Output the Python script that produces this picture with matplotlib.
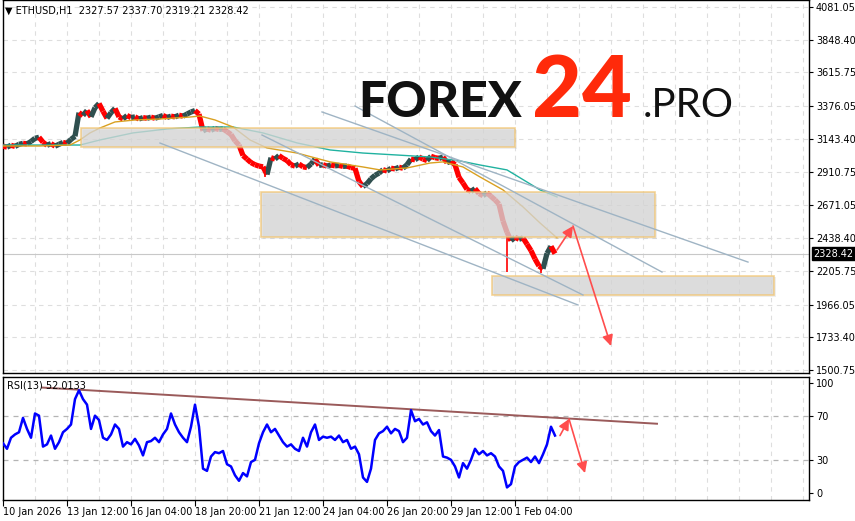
import matplotlib
matplotlib.use("Agg")
import matplotlib.pyplot as plt
from matplotlib.collections import LineCollection
from matplotlib.patches import Rectangle
from matplotlib.transforms import blended_transform_factory

# close prices, one value per 4 hours (hour 0 = 10 Jan 20:00)
closes = [3092, 3085, 3098, 3090, 3105, 3112, 3108, 3125, 3148, 3155,
          3120, 3098, 3110, 3092, 3105, 3118, 3112, 3140, 3162, 3330,
          3310, 3345, 3300, 3365, 3395, 3340, 3290, 3330, 3360, 3300,
          3285, 3310, 3295, 3300, 3285, 3295, 3290, 3298, 3290, 3300,
          3310, 3296, 3305, 3300, 3312, 3305, 3320, 3335, 3345, 3320,
          3200, 3215, 3205, 3218, 3210, 3215, 3195, 3175, 3130, 3100,
          3025, 3000, 2975, 2960, 2950, 2945, 2890, 3010, 3000, 3025,
          3005, 2990, 2960, 2950, 2965, 2945, 2940, 2965, 3000, 2955,
          2960, 2950, 2958, 2952, 2955, 2948, 2950, 2940, 2935, 2840,
          2805, 2825, 2860, 2885, 2900, 2925, 2915, 2935, 2930, 2942,
          2935, 2960, 3000, 2995, 3015, 3000, 2990, 3020, 3010, 3005,
          3015, 2975, 2985, 2960, 2870, 2830, 2785, 2770, 2790, 2755,
          2740, 2760, 2735, 2710, 2680, 2560, 2480, 2420, 2445, 2430,
          2440, 2395, 2350, 2290, 2240, 2220, 2330, 2380, 2328]
bar_hours = 4

wick_hours = [262, 504, 538]
wick_lows = [2873, 2200, 2190]

rsi = [45, 40, 50, 53, 55, 68, 58, 50, 72, 70,
       42, 44, 52, 40, 46, 55, 58, 62, 85, 93,
       85, 80, 58, 70, 66, 50, 48, 53, 62, 58,
       42, 46, 44, 49, 43, 34, 46, 47, 50, 46,
       53, 58, 72, 62, 55, 50, 46, 60, 80, 60,
       22, 20, 33, 37, 36, 38, 26, 24, 16, 11,
       18, 15, 28, 30, 45, 55, 62, 55, 58, 52,
       46, 42, 44, 40, 38, 50, 42, 55, 62, 48,
       51, 50, 51, 48, 52, 46, 48, 40, 42, 35,
       14, 10, 22, 48, 54, 56, 60, 54, 58, 56,
       46, 50, 75, 65, 67, 62, 64, 56, 52, 57,
       33, 32, 30, 24, 14, 27, 22, 30, 40, 35,
       38, 34, 36, 33, 24, 20, 5, 8, 24, 28,
       30, 32, 28, 33, 27, 35, 44, 60, 52]

ma_slow_hours = [0, 77, 97, 130, 164, 197, 230, 260, 294, 327, 360, 394, 427, 457, 477, 504, 537, 554]
ma_slow = [3100, 3100, 3136, 3186, 3214, 3228, 3228, 3186, 3115, 3065, 3043, 3029, 3015, 2987, 2958, 2923, 2781, 2731]
ma_fast_hours = [0, 37, 67, 77, 87, 97, 112, 132, 157, 187, 197, 212, 230, 247, 264, 294, 327, 360, 377, 404, 427, 440, 460, 477, 500, 520, 537, 554]
ma_fast = [3093, 3093, 3100, 3136, 3186, 3221, 3264, 3278, 3285, 3299, 3306, 3278, 3228, 3136, 3079, 3043, 2980, 2944, 2923, 2937, 2972, 2980, 2944, 2873, 2781, 2660, 2546, 2440]

# zones: (start hour, end hour, low price, high price)
zones = [(78, 512, 3086, 3221), (258, 652, 2446, 2766), (489, 771, 2034, 2171)]
# trend lines: (hour0, price0, hour1, price1)
trend_lines = [(157, 3114, 575, 1963), (259, 3171, 580, 2034),
               (319, 3335, 745, 2268), (352, 3377, 659, 2197)]
price_arrows = [(554, 2354, 570, 2524), (570, 2524, 608, 1671)]
rsi_line = (39, 95.5, 654, 62.7)
rsi_arrows = [(557, 52, 566, 67), (566, 67, 582, 18)]

price_ticks = [4081.05, 3848.40, 3615.75, 3376.05, 3143.40, 2910.75,
               2671.05, 2438.40, 2205.75, 1966.05, 1733.40, 1500.75]
rsi_ticks = [100, 70, 30, 0]
date_labels = ["10 Jan 2026", "13 Jan 12:00", "16 Jan 04:00", "18 Jan 20:00",
               "21 Jan 12:00", "24 Jan 04:00", "26 Jan 20:00", "29 Jan 12:00", "1 Feb 04:00"]
last_price = 2328.42

W, H = 855, 521
fig = plt.figure(figsize=(W / 100, H / 100), dpi=100)
ax = fig.add_axes([3 / W, 1 - 373 / H, 806 / W, 373 / H])
ax2 = fig.add_axes([3 / W, 21 / H, 806 / W, 123.5 / H])

grid_kw = dict(color="#dedede", linestyle=(0, (4, 4)), linewidth=0.8)
major_x = list(range(0, 64 * len(date_labels), 64))
minor_x = [v for v in range(0, 806, 32) if v not in major_x]
for a in (ax, ax2):
    a.set_xlim(0, 806)
    a.set_xticks(major_x)
    a.set_xticks(minor_x, minor=True)
    for s in a.spines.values():
        s.set_color("black")
        s.set_linewidth(1)
    a.yaxis.tick_right()
    a.tick_params(axis="y", direction="out", length=3, pad=2, labelsize=7, width=0.8)
    a.tick_params(axis="x", which="minor", length=0)
    a.grid(axis="x", which="both", **grid_kw)

ax.set_ylim(1479.5, 4130.8)
ax.set_yticks(price_ticks)
ax.set_yticklabels([f"{v:.2f}" for v in price_ticks])
ax.grid(axis="y", **grid_kw)
ax.tick_params(axis="x", length=0, labelbottom=False)

# price bars: jagged band, red where falling, dark where rising
xs = [i * bar_hours for i in range(len(closes))]
segs, cols = [], []
for i in range(1, len(closes)):
    segs.append([(xs[i - 1], closes[i - 1]), (xs[i], closes[i])])
    cols.append("#ff0000" if closes[i] < closes[i - 1] else "#2f4f4f")
ax.add_collection(LineCollection(segs, colors=cols, linewidths=3.8, capstyle="butt",
                                 joinstyle="miter", zorder=3))
for x, lo in zip(wick_hours, wick_lows):
    i = x // bar_hours
    ax.vlines(x, lo, closes[i], color="#ff0000", linewidth=1.2, zorder=3)

ax.plot(ma_slow_hours, ma_slow, color="#20b2a0", linewidth=1, zorder=4)
ax.plot(ma_fast_hours, ma_fast, color="#d9a020", linewidth=1, zorder=4)

for h0, h1, p0, p1 in zones:
    ax.add_patch(Rectangle((h0 + 2, p0 - 12), h1 - h0, p1 - p0, facecolor="#bdbdbd",
                           alpha=0.25, edgecolor="none", zorder=5))
    ax.add_patch(Rectangle((h0, p0), h1 - h0, p1 - p0, facecolor="#d6d6d6", alpha=0.72,
                           edgecolor="#f2c46d", linewidth=1.2, zorder=6))

for h0, p0, h1, p1 in trend_lines:
    ax.plot([h0, h1], [p0, p1], color="#9fb4c4", linewidth=1, zorder=7)

ax.axhline(last_price, color="#c8c8c8", linewidth=0.8, zorder=2)

arrow_kw = dict(arrowstyle="-|>", color="#ff4d4d", lw=1.2, mutation_scale=16, shrinkA=0, shrinkB=0)
for h0, p0, h1, p1 in price_arrows:
    ax.annotate("", xy=(h1, p1), xytext=(h0, p0), arrowprops=arrow_kw, zorder=8)

trans = blended_transform_factory(ax.transAxes, ax.transData)
ax.text(1.005, last_price, f"{last_price:.2f}", transform=trans, fontsize=7, color="white",
        va="center", ha="left", bbox=dict(boxstyle="square,pad=0.15", facecolor="black", edgecolor="black"))

ax.text(0.003, 0.985, "\u25bc ETHUSD,H1  2327.57 2337.70 2319.21 2328.42", transform=ax.transAxes,
        fontsize=7, va="top", ha="left")

# RSI panel
ax2.set_ylim(-6.4, 105.5)
ax2.set_yticks(rsi_ticks)
ax2.set_yticklabels([str(v) for v in rsi_ticks])
for lvl in (70, 30):
    ax2.axhline(lvl, color="#b4b4b4", linestyle=(0, (4, 4)), linewidth=0.9)
ax2.plot(xs, rsi, color="#0000ff", linewidth=1.8, zorder=4)
ax2.plot([rsi_line[0], rsi_line[2]], [rsi_line[1], rsi_line[3]], color="#9a5a5a", linewidth=1.4, zorder=3)
for h0, v0, h1, v1 in rsi_arrows:
    ax2.annotate("", xy=(h1, v1), xytext=(h0, v0), arrowprops=arrow_kw, zorder=8)
ax2.text(0.005, 0.97, "RSI(13) 52.0133", transform=ax2.transAxes, fontsize=7, va="top", ha="left")

ax2.set_xticklabels(date_labels, ha="left")
ax2.tick_params(axis="x", which="major", direction="out", length=4, pad=1, labelsize=7, width=0.8)

# logo
base = 1 - 117 / H
fig.text(358 / W, base, "FOREX", fontsize=36, fontfamily="Lato", fontweight="black", color="#111111", va="baseline")
fig.text(532 / W, base, "24", fontsize=62, fontfamily="Lato", fontweight="black", color="#ff2a0a", va="baseline")
fig.text(643 / W, base, ".PRO", fontsize=29, fontfamily="Lato", fontweight="normal", color="#111111", va="baseline")

fig.savefig("out.png", dpi=100)
